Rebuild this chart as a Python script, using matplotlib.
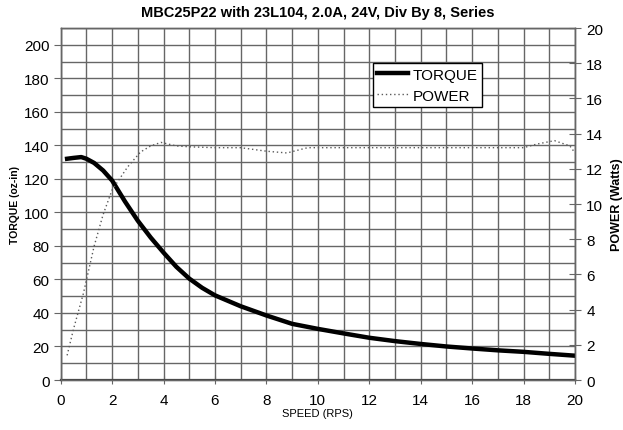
import matplotlib
matplotlib.use("Agg")
import matplotlib.pyplot as plt
from matplotlib.ticker import MultipleLocator

plt.rcParams['font.family'] = ['Liberation Sans', 'DejaVu Sans']

title = "MBC25P22 with 23L104, 2.0A, 24V, Div By 8, Series"

torque_speed = [0.25, 0.5, 0.8, 1.0, 1.3, 1.65, 2.0, 2.5, 3.0, 3.5, 4.0, 4.5, 5.0, 5.5, 6.0, 7.0, 8.0,
                9.0, 10.0, 11.0, 12.0, 13.0, 14.0, 15.0, 16.0, 17.0, 18.0, 19.0, 20.0]
torque = [132, 132.5, 133, 132, 129.5, 125, 119, 106.5, 95, 85, 76, 67.5, 60.5, 55, 50.5, 44, 38.5,
          33.5, 30.5, 27.8, 25.2, 23.2, 21.5, 20, 18.8, 17.7, 16.8, 15.6, 14.5]

power_speed = [0.25, 0.5, 0.88, 1.3, 1.65, 2.0, 2.6, 3.1, 3.5, 3.9, 4.5, 5.0, 6.0, 7.0, 8.0, 8.8,
               9.6, 10.0, 12.0, 14.0, 16.0, 18.0, 18.5, 19.2, 19.8, 20.0]
power = [1.4, 2.9, 4.9, 7.6, 9.4, 10.8, 12.1, 12.95, 13.3, 13.5, 13.3, 13.25, 13.2, 13.2, 13.0, 12.9,
         13.2, 13.2, 13.2, 13.2, 13.2, 13.2, 13.4, 13.6, 13.3, 12.9]

fig = plt.figure(figsize=(6.23, 4.31), dpi=100)
ax = fig.add_axes([0.0974, 0.116, 0.8256, 0.8167])
ax2 = ax.twinx()

ax.set_xlim(0, 20)
ax.set_ylim(0, 210)
ax2.set_ylim(0, 20)

ax.xaxis.set_major_locator(MultipleLocator(2))
ax.xaxis.set_minor_locator(MultipleLocator(1))
ax.set_yticks(range(0, 201, 20))
ax.yaxis.set_minor_locator(MultipleLocator(10))
ax2.set_yticks(range(0, 21, 2))

ax.grid(True, which='both', color='#666666', linewidth=1.0)
ax.set_axisbelow(True)

l1, = ax.plot(torque_speed, torque, color='black', linewidth=3.2, label='TORQUE', zorder=3)
l2, = ax2.plot(power_speed, power, color='#5a5a5a', linewidth=1.0, linestyle=(0, (1, 2)),
               label='POWER', zorder=3)

for a in (ax, ax2):
    for s in a.spines.values():
        s.set_color('#666666')
        s.set_linewidth(1.0)
ax.spines['bottom'].set_color('#444444')
ax.spines['bottom'].set_linewidth(1.6)

ax.tick_params(axis='y', which='major', direction='out', length=5, color='#666666',
               labelsize=11, pad=3)
ax.tick_params(axis='y', which='minor', length=0)
ax.tick_params(axis='x', which='major', direction='inout', length=6, color='#666666',
               labelsize=11, pad=6)
ax.tick_params(axis='x', which='minor', length=0)
ax2.tick_params(axis='y', which='major', direction='inout', length=8, color='#666666',
                labelsize=11, pad=4)

ax.set_title(title, fontsize=10.5, fontweight='bold', pad=9)
ax.set_xlabel('SPEED (RPS)', fontsize=8, labelpad=1)
ax.set_ylabel('TORQUE (oz-in)', fontsize=7.5, fontweight='bold', labelpad=3)
ax2.set_ylabel('POWER (Watts)', fontsize=9, fontweight='bold', labelpad=6)

leg = ax2.legend(handles=[l1, l2], loc='upper left', bbox_to_anchor=(0.607, 0.9),
                 fontsize=11, frameon=True, fancybox=False, edgecolor='black',
                 borderpad=0.3, labelspacing=0.45, handlelength=2.0, handletextpad=0.3,
                 borderaxespad=0)
leg.get_frame().set_linewidth(1.0)
leg.get_frame().set_alpha(1)

fig.savefig('out.png', dpi=100)
